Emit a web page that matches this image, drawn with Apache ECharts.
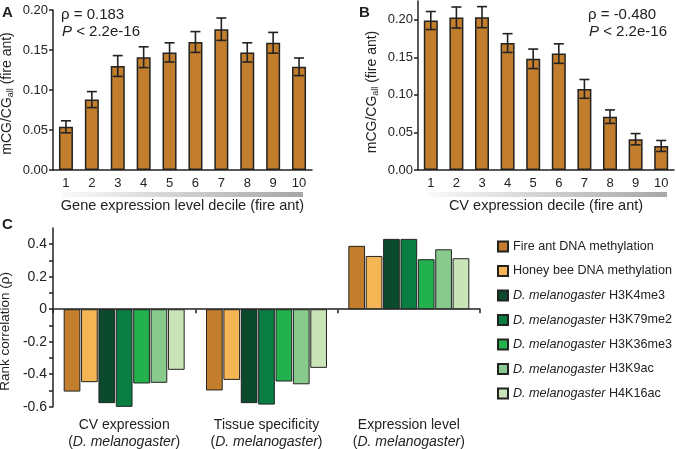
<!DOCTYPE html>
<html>
<head>
<meta charset="utf-8">
<script src="https://cdn.jsdelivr.net/npm/echarts@6/dist/echarts.min.js"></script>
<style>html,body{margin:0;padding:0;background:#fff}#c{width:676px;height:449px}</style>
</head>
<body>
<div id="c"></div>
<script>
// ---- data ----
const deciles = ['1','2','3','4','5','6','7','8','9','10'];
const methByExpr = [0.054, 0.088, 0.130, 0.141, 0.147, 0.160, 0.176, 0.147, 0.159, 0.129];
const errByExpr  = [0.0075, 0.010, 0.013, 0.013, 0.012, 0.013, 0.014, 0.012, 0.013, 0.011];
const methByCV   = [0.199, 0.203, 0.2035, 0.169, 0.148, 0.155, 0.108, 0.071, 0.041, 0.032];
const errByCV    = [0.012, 0.014, 0.014, 0.0125, 0.013, 0.013, 0.0125, 0.009, 0.0075, 0.0073];
const corrCategories = ['CV expression', 'Tissue specificity', 'Expression level'];
const seriesNames = ['Fire ant DNA methylation', 'Honey bee DNA methylation',
  'D. melanogaster H3K4me3', 'D. melanogaster H3K79me2', 'D. melanogaster H3K36me3',
  'D. melanogaster H3K9ac', 'D. melanogaster H4K16ac'];
const corrFireAnt  = [-0.507, -0.500, 0.390];
const corrHoneyBee = [-0.449, -0.435, 0.328];
const corrH3K4me3  = [-0.578, -0.578, 0.433];
const corrH3K79me2 = [-0.601, -0.587, 0.433];
const corrH3K36me3 = [-0.457, -0.445, 0.308];
const corrH3K9ac   = [-0.453, -0.462, 0.369];
const corrH4K16ac  = [-0.373, -0.361, 0.314];
const corrValues = [corrFireAnt, corrHoneyBee, corrH3K4me3, corrH3K79me2, corrH3K36me3, corrH3K9ac, corrH4K16ac];
const seriesColors = ['#c27e2d', '#f4b655', '#0b4a2d', '#0a7e42', '#23b14d', '#88c98c', '#c9e5b8'];

// ---- chart ----
const FF = '"Liberation Sans", Arial, Helvetica, sans-serif';
const INK = '#222';
const chart = echarts.init(document.getElementById('c'), null, {renderer: 'canvas'});

function errorSeries(name, vals, errs, idx) {
  return {
    type: 'custom', name: name, xAxisIndex: idx, yAxisIndex: idx, z: 5,
    data: vals.map((v, i) => [i, v, errs[i]]),
    renderItem: function (params, api) {
      const x = api.value(0), y = api.value(1), e = api.value(2);
      const hi = api.coord([x, y + e]);
      const lo = api.coord([x, y - e]);
      const hw = 5;
      const st = {stroke: INK, lineWidth: 1.6};
      return {type: 'group', children: [
        {type: 'line', shape: {x1: hi[0], y1: hi[1], x2: lo[0], y2: lo[1]}, style: st},
        {type: 'line', shape: {x1: hi[0] - hw, y1: hi[1], x2: hi[0] + hw, y2: hi[1]}, style: st},
        {type: 'line', shape: {x1: lo[0] - hw, y1: lo[1], x2: lo[0] + hw, y2: lo[1]}, style: st}
      ]};
    }
  };
}

const axisLineStyle = {color: INK, width: 1.5};
const mcgName = '{n|mCG/CG}{s|all}{n| (fire ant)}';
const mcgRich = {n: {fontSize: 14, color: INK, fontFamily: FF}, s: {fontSize: 9, color: INK, fontFamily: FF, verticalAlign: 'bottom', padding: [6, 0, 0, 0]}};

function topXAxis(grid, title) {
  return {
    gridIndex: grid, type: 'category', data: deciles,
    axisLine: {lineStyle: axisLineStyle}, axisTick: {show: false},
    axisLabel: {color: INK, fontSize: 13, margin: 7, fontFamily: FF, interval: 0},
    name: title, nameLocation: 'middle', nameGap: 28,
    nameTextStyle: {fontSize: 14.5, color: INK, fontFamily: FF}
  };
}
function mcgYAxis(grid, max, pad) {
  return {
    gridIndex: grid, type: 'value', min: 0, max: max, interval: 0.05,
    splitLine: {show: false},
    axisLine: {show: true, lineStyle: axisLineStyle},
    axisTick: {show: true, length: 4, lineStyle: axisLineStyle},
    axisLabel: {color: INK, fontSize: 13, margin: 5, fontFamily: FF, showMaxLabel: max === 0.2,
      formatter: v => (Math.abs(v / 0.05 - Math.round(v / 0.05)) < 1e-6 ? v.toFixed(2) : '')},
    name: mcgName, nameLocation: 'middle', nameRotate: 90, nameGap: 38,
    nameTextStyle: {rich: mcgRich, padding: [0, pad, 0, 0]}
  };
}

const corrSeries = corrValues.map((vals, k) => ({
  type: 'bar', name: seriesNames[k], xAxisIndex: 2, yAxisIndex: 2,
  data: vals, barGap: '4%', barCategoryGap: '15%',
  itemStyle: {color: seriesColors[k], borderColor: INK, borderWidth: 1}
}));

const option = {
  animation: false,
  backgroundColor: '#fff',
  textStyle: {fontFamily: FF},
  grid: [
    {left: 53, top: 10, width: 259, height: 160, outerBoundsMode: 'none', containLabel: false},
    {left: 418, top: 1, width: 256, height: 169, outerBoundsMode: 'none', containLabel: false},
    {left: 53, top: 228, width: 427, height: 178.7, outerBoundsMode: 'none', containLabel: false}
  ],
  xAxis: [
    topXAxis(0, 'Gene expression level decile (fire ant)'),
    topXAxis(1, 'CV expression decile (fire ant)'),
    {gridIndex: 2, type: 'category', data: corrCategories,
      axisLine: {onZero: true, lineStyle: axisLineStyle},
      axisTick: {show: true, length: 4, lineStyle: axisLineStyle},
      axisLabel: {show: false}},
    {gridIndex: 2, type: 'category', data: corrCategories, position: 'bottom',
      axisLine: {show: false, onZero: false}, axisTick: {show: false},
      axisLabel: {margin: 10, lineHeight: 17, interval: 0, hideOverlap: false,
        formatter: v => '{n|' + v + '}\n{n|(}{i|D. melanogaster}{n|)}',
        rich: {n: {fontSize: 14, color: INK, fontFamily: FF, lineHeight: 17},
               i: {fontSize: 14, color: INK, fontFamily: FF, fontStyle: 'italic', lineHeight: 17}}}}
  ],
  yAxis: [
    mcgYAxis(0, 0.2, 7),
    mcgYAxis(1, 0.225, 13),
    {gridIndex: 2, type: 'value', min: -0.6, max: 0.5, interval: 0.1,
      splitLine: {show: false},
      axisLine: {show: true, lineStyle: axisLineStyle},
      axisTick: {show: true, length: 4, lineStyle: axisLineStyle},
      axisLabel: {color: INK, fontSize: 14, margin: 6, fontFamily: FF, showMaxLabel: false,
        formatter: v => {
          const t = Math.round(v * 10);
          if (t % 2 !== 0) return '';
          return t === 0 ? '0' : (t / 10).toFixed(1);
        }},
      name: 'Rank correlation (ρ)', nameLocation: 'middle', nameRotate: 90, nameGap: 40,
      nameTextStyle: {fontSize: 13.5, color: INK, fontFamily: FF, padding: [0, 28, 0, 0]}}
  ],
  legend: {
    data: seriesNames, orient: 'vertical', left: 497, top: 239.5, padding: 0,
    itemWidth: 10, itemHeight: 10, itemGap: 10.5, icon: 'rect',
    textStyle: {fontSize: 12.6, color: INK, fontFamily: FF, lineHeight: 14,
      rich: {i: {fontSize: 12.6, color: INK, fontFamily: FF, fontStyle: 'italic', lineHeight: 14},
             r: {fontSize: 12.6, color: INK, fontFamily: FF, lineHeight: 14}}},
    formatter: name => name.indexOf('D. melanogaster') === 0
      ? '{i|D. melanogaster}{r| ' + name.slice(16) + '}' : name,
    selectedMode: false
  },
  graphic: [
    {type: 'text', left: 2, top: 5, style: {text: 'A', font: 'bold 15px ' + FF, fill: INK}},
    {type: 'text', left: 359, top: 5, style: {text: 'B', font: 'bold 15px ' + FF, fill: INK}},
    {type: 'text', left: 2, top: 217, style: {text: 'C', font: 'bold 15px ' + FF, fill: INK}},
    {type: 'text', x: 61, y: 15, style: {text: 'ρ = 0.183', font: '15px ' + FF, fill: INK, verticalAlign: 'middle'}},
    {type: 'text', x: 62, y: 32, style: {text: '{i|P} < 2.2e-16', font: '15px ' + FF, fill: INK, verticalAlign: 'middle',
      rich: {i: {fontStyle: 'italic', fontSize: 15, fontFamily: FF, fill: INK}}}},
    {type: 'text', x: 588, y: 15, style: {text: 'ρ = -0.480', font: '15px ' + FF, fill: INK, verticalAlign: 'middle'}},
    {type: 'text', x: 589, y: 32, style: {text: '{i|P} < 2.2e-16', font: '15px ' + FF, fill: INK, verticalAlign: 'middle',
      rich: {i: {fontStyle: 'italic', fontSize: 15, fontFamily: FF, fill: INK}}}},
    {type: 'rect', shape: {x: 62, y: 192, width: 241, height: 5},
      style: {fill: new echarts.graphic.LinearGradient(0, 0, 1, 0, [{offset: 0, color: '#fafafa'}, {offset: 1, color: '#a6a6a6'}])}},
    {type: 'rect', shape: {x: 428, y: 192, width: 239, height: 5},
      style: {fill: new echarts.graphic.LinearGradient(0, 0, 1, 0, [{offset: 0, color: '#fafafa'}, {offset: 1, color: '#a6a6a6'}])}}
  ],
  series: [
    {type: 'bar', name: 'methByExpr', xAxisIndex: 0, yAxisIndex: 0, data: methByExpr, barWidth: 14,
      itemStyle: {color: seriesColors[0], borderColor: INK, borderWidth: 1.5}},
    errorSeries('errByExpr', methByExpr, errByExpr, 0),
    {type: 'bar', name: 'methByCV', xAxisIndex: 1, yAxisIndex: 1, data: methByCV, barWidth: 14,
      itemStyle: {color: seriesColors[0], borderColor: INK, borderWidth: 1.5}},
    errorSeries('errByCV', methByCV, errByCV, 1)
  ].concat(corrSeries)
};
chart.setOption(option);
</script>
</body>
</html>
